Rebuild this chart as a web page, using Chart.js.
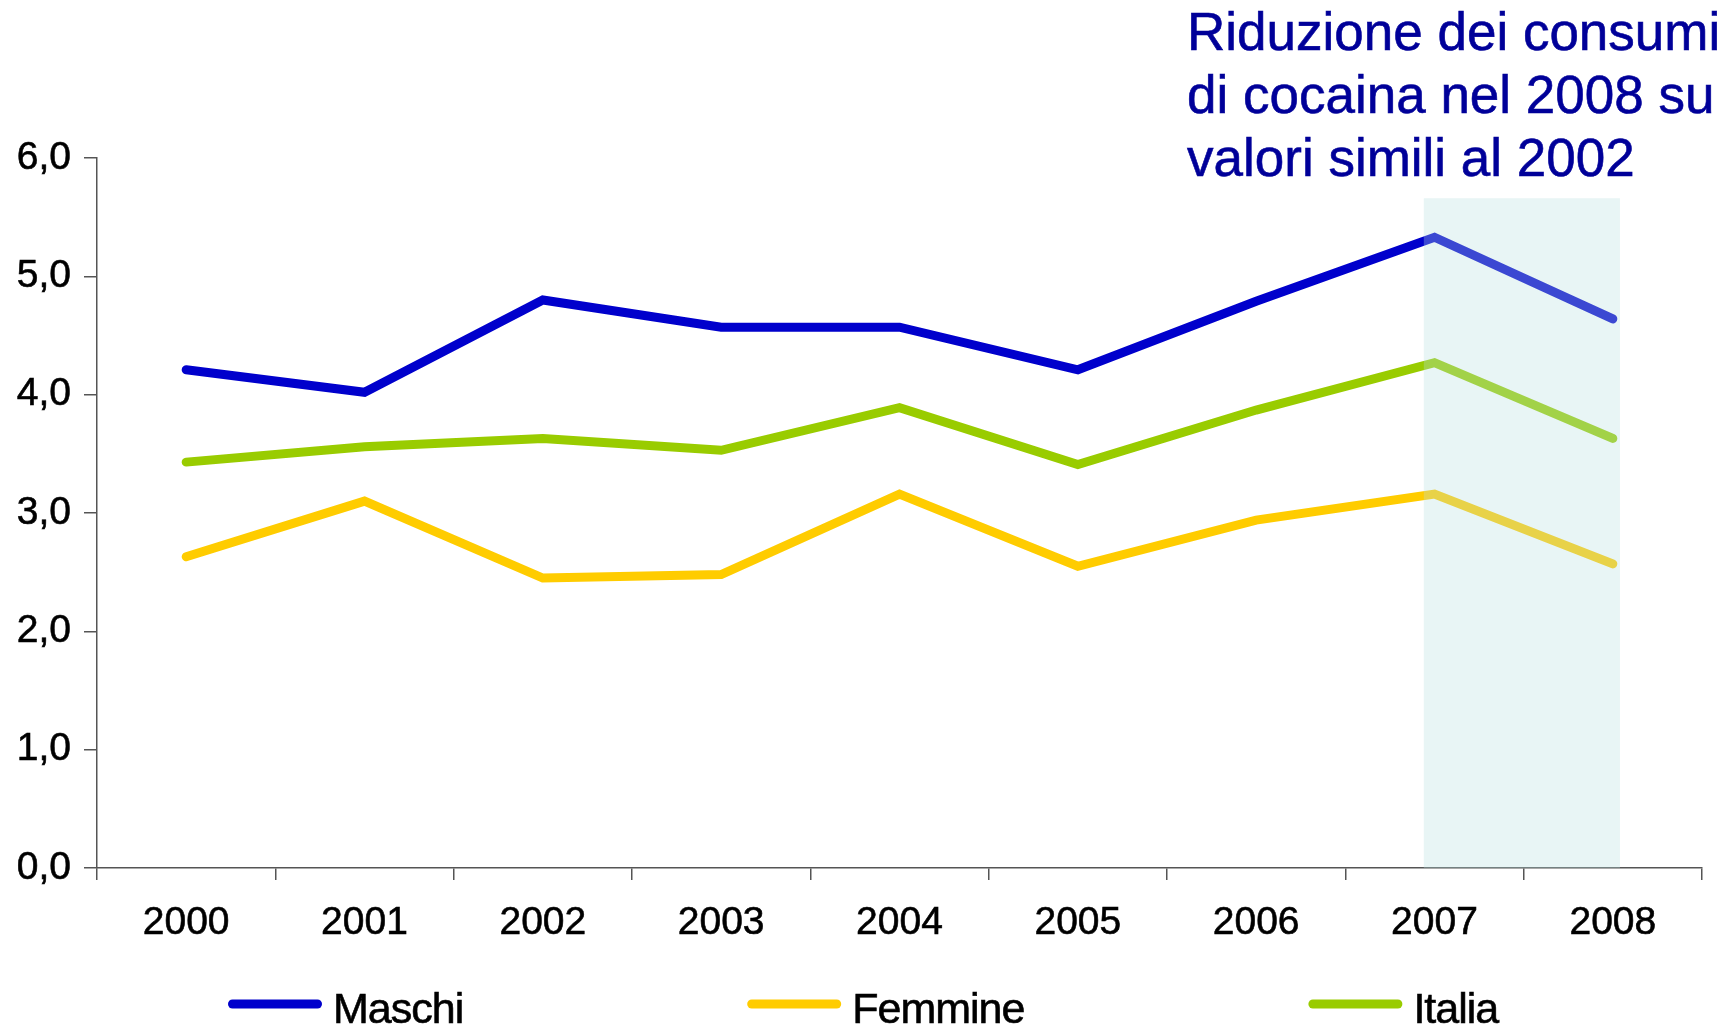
<!DOCTYPE html>
<html>
<head>
<meta charset="utf-8">
<title>Consumi di cocaina</title>
<script src="https://cdn.jsdelivr.net/npm/chart.js@4"></script>
<style>
  html, body { margin: 0; padding: 0; background: #fff; overflow: hidden; }
  canvas { display: block; }
</style>
</head>
<body>
<canvas id="chart" width="1730" height="1025"></canvas>
<script>
// Chart data
const years = ["2000", "2001", "2002", "2003", "2004", "2005", "2006", "2007", "2008"];
const maschi = [4.21, 4.02, 4.80, 4.57, 4.57, 4.21, 4.79, 5.33, 4.64];
const femmine = [2.63, 3.10, 2.45, 2.48, 3.16, 2.55, 2.94, 3.16, 2.57];
const italia = [3.43, 3.56, 3.63, 3.53, 3.89, 3.41, 3.87, 4.27, 3.63];
const yTicks = [0, 1, 2, 3, 4, 5, 6];

// Highlighted period (category index range and top value)
const shadeFrom = 6.94;
const shadeTo = 8.04;
const shadeTop = 5.66;

const noteLines = [
  "Riduzione dei consumi",
  "di cocaina nel 2008 su",
  "valori simili al 2002",
];

const colors = {
  maschi: "#0000cc",
  femmine: "#ffcc00",
  italia: "#99cc00",
  note: "#000099",
  axis: "#555555",
  shade: "rgba(182, 223, 223, 0.32)",
};

const FONT = "'Liberation Sans', Arial, sans-serif";

// Light box over the last two years, drawn on top of the lines
const shadePlugin = {
  id: "shade",
  afterDatasetsDraw(chart) {
    const { ctx, scales } = chart;
    const x0 = scales.x.getPixelForValue(shadeFrom);
    const x1 = scales.x.getPixelForValue(shadeTo);
    const y0 = scales.y.getPixelForValue(shadeTop);
    const y1 = scales.y.getPixelForValue(0);
    ctx.save();
    ctx.fillStyle = colors.shade;
    ctx.fillRect(x0, y0, x1 - x0, y1 - y0);
    ctx.restore();
  },
};

// Note text in the top right corner
const notePlugin = {
  id: "note",
  afterDraw(chart) {
    const ctx = chart.ctx;
    ctx.save();
    ctx.font = "53px " + FONT;
    ctx.fillStyle = colors.note;
    ctx.strokeStyle = colors.note;
    ctx.lineWidth = 0.6;
    ctx.textAlign = "left";
    ctx.textBaseline = "alphabetic";
    noteLines.forEach((line, i) => {
      ctx.fillText(line, 1187, 50 + i * 63);
      ctx.strokeText(line, 1187, 50 + i * 63);
    });
    ctx.restore();
  },
};

// Legend with wide gaps between items
const legendPlugin = {
  id: "wideLegend",
  afterDraw(chart) {
    const ctx = chart.ctx;
    const sets = chart.data.datasets;
    const lineLen = 85;
    const gapText = 11;
    const gapItem = 284;
    ctx.save();
    ctx.font = "43px " + FONT;
    ctx.letterSpacing = "-1px";
    const widths = sets.map(
      (ds) => lineLen + 9 + gapText + ctx.measureText(ds.label).width
    );
    let x = 228;
    sets.forEach((ds, i) => {
      ctx.strokeStyle = ds.borderColor;
      ctx.lineWidth = 9;
      ctx.lineCap = "round";
      ctx.beginPath();
      ctx.moveTo(x + 4.5, 1004);
      ctx.lineTo(x + 4.5 + lineLen, 1004);
      ctx.stroke();
      ctx.fillStyle = "#000";
      ctx.strokeStyle = "#000";
      ctx.lineWidth = 0.6;
      ctx.textBaseline = "alphabetic";
      ctx.fillText(ds.label, x + lineLen + 9 + gapText, 1023);
      ctx.strokeText(ds.label, x + lineLen + 9 + gapText, 1023);
      x += widths[i] + gapItem;
    });
    ctx.restore();
  },
};

function lineSet(label, data, color) {
  return {
    label: label,
    data: data,
    borderColor: color,
    backgroundColor: color,
    borderWidth: 9,
    borderCapStyle: "round",
    borderJoinStyle: "miter",
    pointRadius: 0,
    tension: 0,
    fill: false,
  };
}

const ctx = document.getElementById("chart").getContext("2d");
new Chart(ctx, {
  type: "line",
  data: {
    labels: years,
    datasets: [
      lineSet("Maschi", maschi, colors.maschi),
      lineSet("Femmine", femmine, colors.femmine),
      lineSet("Italia", italia, colors.italia),
    ],
  },
  options: {
    responsive: false,
    animation: false,
    layout: {
      padding: { top: 158, right: 28, bottom: 77, left: 0 },
    },
    plugins: {
      legend: { display: false },
      tooltip: { enabled: false },
      title: { display: false },
    },
    scales: {
      x: {
        offset: true,
        grid: {
          offset: true,
          drawOnChartArea: false,
          drawTicks: true,
          tickLength: 12,
          color: colors.axis,
          lineWidth: 1.5,
        },
        border: { display: true, color: colors.axis, width: 1.5 },
        ticks: {
          color: "#000",
          padding: 20,
          font: { family: FONT, size: 39 },
          textStrokeColor: "#000",
          textStrokeWidth: 0.6,
          maxRotation: 0,
        },
        afterFit(scale) {
          scale.height = 80;
        },
      },
      y: {
        min: 0,
        max: 6,
        afterBuildTicks(scale) {
          scale.ticks = yTicks.map((v) => ({ value: v }));
        },
        grid: {
          drawOnChartArea: false,
          drawTicks: true,
          tickLength: 13,
          color: colors.axis,
          lineWidth: 1.5,
        },
        border: { display: true, color: colors.axis, width: 1.5 },
        ticks: {
          color: "#000",
          padding: 13,
          font: { family: FONT, size: 39 },
          textStrokeColor: "#000",
          textStrokeWidth: 0.6,
          callback: (v) => Number(v).toFixed(1).replace(".", ","),
        },
        afterFit(scale) {
          scale.width = 97;
        },
      },
    },
  },
  plugins: [shadePlugin, notePlugin, legendPlugin],
});
</script>
</body>
</html>
